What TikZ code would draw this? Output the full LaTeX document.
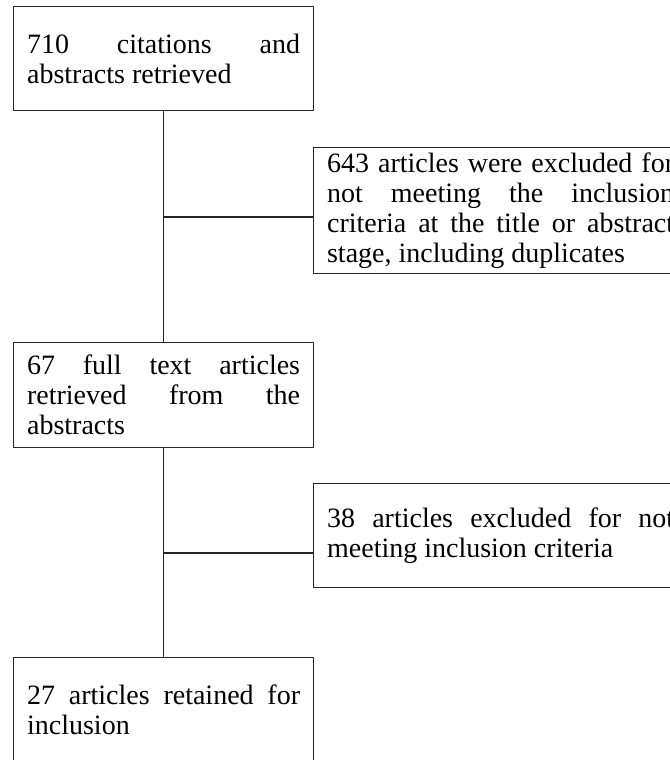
\documentclass[tikz,border=0pt]{standalone}
\usepackage{fontspec}
\setmainfont{Liberation Serif}
\usetikzlibrary{positioning}
\hyphenpenalty=10000 \exhyphenpenalty=10000
\tolerance=10000
\begin{document}
\begin{tikzpicture}[x=0.75pt, y=-0.75pt, line join=round,
	box/.style={draw=black!85, line width=0.9pt, rectangle, anchor=north west, align=justify,
		inner xsep=10.125pt, inner ysep=0pt, font=\fontsize{21}{22.5}\selectfont},
	narrowbox/.style={box, text width=204.75pt},
	widebox/.style={box, text width=260.25pt}]
	\clip (0,0) rectangle (670,760);
	\node[narrowbox, minimum height=78pt] (cited) at (13,6) {710 citations and abstracts retrieved};
	\node[widebox, minimum height=94.5pt] (excl1) at (313,147) {643 articles were excluded for\linebreak not meeting the inclusion\linebreak criteria at the title or abstract\linebreak stage, including duplicates};
	\node[narrowbox, minimum height=78.75pt] (full) at (13,342) {67 full text articles retrieved from the abstracts};
	\node[widebox, minimum height=78pt] (excl2) at (313,483) {38 articles excluded for not meeting inclusion criteria};
	\node[narrowbox, minimum height=78pt] (kept) at (13,657) {27 articles retained for inclusion};
	% trunk
	\draw[black!85, line width=0.9pt] (cited.south) -- (full.north);
	\draw[black!85, line width=0.9pt] (full.south) -- (kept.north);
	% branches
	\coordinate (j1) at (163,217);
	\coordinate (j2) at (163,553);
	\draw[black!85, line width=0.9pt] (j1) -- (j1 -| excl1.west);
	\draw[black!85, line width=0.9pt] (j2) -- (j2 -| excl2.west);
\end{tikzpicture}
\end{document}
